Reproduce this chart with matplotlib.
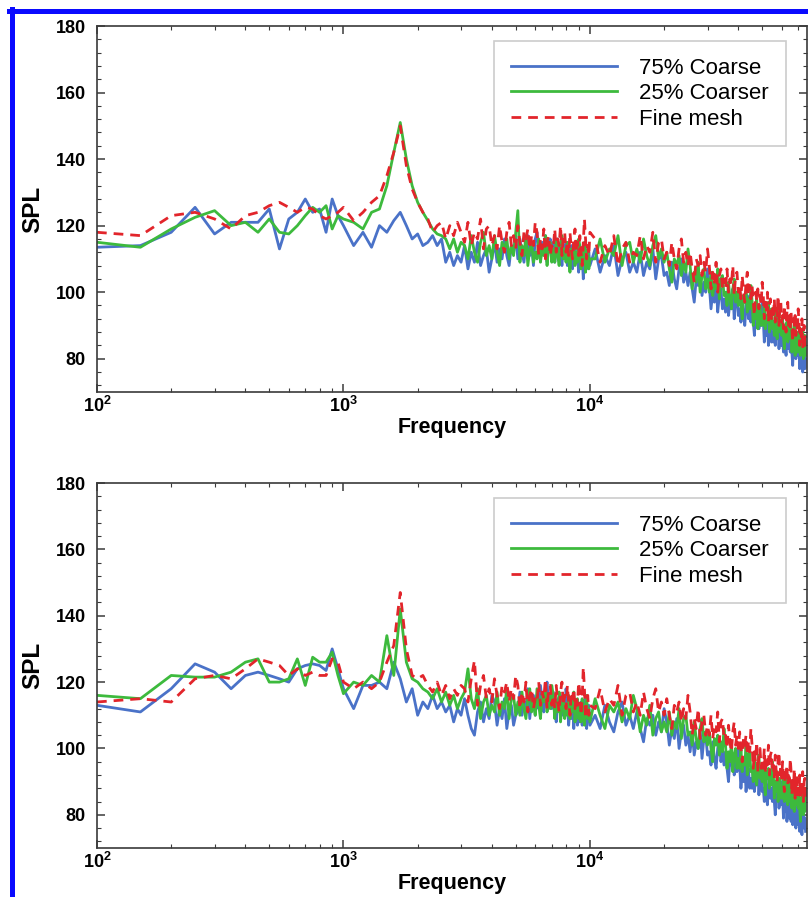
import numpy as np
import matplotlib

matplotlib.use("Agg")
import matplotlib.pyplot as plt
from matplotlib.lines import Line2D
from matplotlib.ticker import FixedLocator, LogLocator, MultipleLocator, NullFormatter

plt.rcParams["font.family"] = ["Liberation Sans", "DejaVu Sans"]
plt.rcParams["mathtext.fontset"] = "custom"
plt.rcParams["mathtext.rm"] = "Liberation Sans:bold"
plt.rcParams["mathtext.bf"] = "Liberation Sans:bold"

# FFT bins [Hz]: 50 Hz spacing up to 1 kHz, then thinned out for the broadband part
freq = np.concatenate(
    [
        np.arange(100, 1001, 50),
        np.arange(1100, 3001, 100),
        np.arange(3100, 10001, 100),
        np.arange(10500, 75001, 500),
    ]
)

labels = ["75% Coarse", "25% Coarser", "Fine mesh"]
colors = ["#4a72c8", "#3dba3d", "#e2252b"]

x_ticks = [1e2, 1e3, 1e4]
x_tick_labels = [r"$\mathbf{10^{2}}$", r"$\mathbf{10^{3}}$", r"$\mathbf{10^{4}}$"]
y_ticks = [80, 100, 120, 140, 160, 180]

# ---- top panel, SPL [dB] ----
top_coarse = [
    # 100 Hz - 3 kHz
    113.5, 114, 118, 125.5, 117.5, 121, 121, 121, 125, 113, 122, 124, 128, 124, 125, 118, 128, 123, 120,
    114, 118, 113.5, 120, 118, 121.5, 124, 120, 116, 117.5, 114, 115, 117, 114, 116, 109, 112, 108, 111, 109,
    # 3.1 - 10 kHz
    114, 107, 112, 109, 115, 108, 111, 113, 106, 110,
    115, 109, 113, 110, 116, 111, 108, 114, 112, 117,
    110, 116, 112, 109, 115, 117, 111, 114, 108, 116,
    118, 112, 110, 115, 113, 117, 109, 114, 116, 111,
    115, 109, 113, 116, 110, 112, 108, 114, 111, 115,
    108, 113, 110, 114, 107, 112, 115, 109, 111, 106,
    112, 108, 111, 104, 109, 113, 107, 110, 112, 108,
    # 10.5 - 75 kHz
    113, 106, 111, 108, 114, 105, 110, 112, 106, 109,
    106, 112, 105, 109, 107, 113, 104, 110, 111, 105,
    106, 102, 109, 104, 101, 107, 110, 103, 106, 102,
    106, 101, 97, 104, 102, 105, 99, 103, 100, 107,
    102, 95, 100, 97, 103, 94, 99, 101, 95, 98,
    94, 100, 93, 97, 95, 101, 92, 98, 99, 93,
    95, 91, 98, 93, 90, 96, 99, 92, 95, 91,
    96, 91, 87, 94, 92, 95, 89, 93, 90, 97,
    92, 85, 90, 87, 93, 84, 89, 91, 85, 88,
    85, 91, 84, 88, 86, 92, 83, 89, 90, 84,
    86, 82, 89, 84, 81, 87, 90, 83, 86, 82,
    87, 82, 78, 85, 83, 86, 80, 84, 81, 88,
    84, 77, 82, 79, 85, 76, 81, 83, 77, 80,
]
top_coarser = [
    115, 113.5, 119, 122.5, 124.5, 120, 121, 118, 122, 118, 117.5, 120, 123, 125.5, 124, 126, 119, 123, 122,
    121, 119, 124, 125, 132, 142, 151, 140, 132, 127, 124, 121.5, 119, 117.5, 117, 116, 113, 116, 112, 115,
    114, 110, 117, 112, 109, 115, 118, 111, 114, 110,
    117, 112, 108, 115, 113, 116, 110, 114, 111, 118,
    124.5, 109, 114, 111, 117, 108, 113, 115, 109, 112,
    110, 116, 109, 113, 111, 117, 108, 114, 115, 109,
    113, 109, 116, 111, 108, 114, 117, 110, 113, 109,
    115, 110, 106, 113, 111, 114, 108, 112, 109, 116,
    114, 107, 112, 109, 115, 106, 111, 113, 107, 110,
    110, 116, 109, 113, 111, 117, 108, 114, 115, 109,
    113, 109, 116, 111, 108, 114, 117, 110, 113, 109,
    112, 107, 103, 110, 108, 111, 105, 109, 106, 113,
    108, 101, 106, 103, 109, 100, 105, 107, 101, 104,
    100, 106, 99, 103, 101, 107, 98, 104, 105, 99,
    100, 96, 103, 98, 95, 101, 104, 97, 100, 96,
    101, 96, 92, 99, 97, 100, 94, 98, 95, 102,
    97, 90, 95, 92, 98, 89, 94, 96, 90, 93,
    90, 96, 89, 93, 91, 97, 88, 94, 95, 89,
    91, 87, 94, 89, 86, 92, 95, 88, 91, 87,
    92, 87, 83, 90, 88, 91, 85, 89, 86, 93,
    89, 82, 87, 84, 90, 81, 86, 88, 82, 85,
    82, 88, 81, 85, 83, 89, 80, 86, 87, 81,
]
top_fine = [
    118, 117, 123, 124, 122, 119, 123, 124, 126, 127, 125.5, 124, 125.5, 125, 123, 122, 123, 124, 125.5,
    121.5, 124, 127, 129, 135, 142, 150, 138, 131, 127, 124, 122, 118, 120, 121, 116, 120, 117, 121, 118,
    115, 121, 114, 118, 116, 122, 113, 119, 120, 114,
    117, 113, 120, 115, 112, 118, 121, 114, 117, 113,
    120, 115, 111, 118, 116, 119, 113, 117, 114, 121,
    118, 111, 116, 113, 119, 110, 115, 117, 111, 114,
    113, 119, 112, 116, 114, 120, 111, 117, 118, 112,
    115, 111, 118, 113, 110, 116, 119, 112, 115, 111,
    117, 112, 108, 115, 122, 116, 110, 114, 111, 118,
    116, 109, 114, 111, 117, 108, 113, 115, 109, 112,
    111, 117, 110, 114, 112, 118, 109, 115, 116, 110,
    112, 108, 115, 110, 107, 113, 116, 109, 112, 108,
    112, 107, 103, 110, 108, 111, 105, 109, 106, 113,
    108, 101, 106, 103, 109, 100, 105, 107, 101, 104,
    101, 107, 100, 104, 102, 108, 99, 105, 106, 100,
    102, 98, 105, 100, 97, 103, 106, 99, 102, 98,
    102, 97, 93, 100, 98, 101, 95, 99, 96, 103,
    99, 92, 97, 94, 100, 91, 96, 98, 92, 95,
    92, 98, 91, 95, 93, 99, 90, 96, 97, 91,
    93, 89, 96, 91, 88, 94, 97, 90, 93, 89,
    94, 89, 85, 92, 90, 93, 87, 91, 88, 95,
    91, 84, 89, 86, 92, 83, 88, 90, 84, 87,
]

# ---- bottom panel ----
bot_coarse = [
    113, 111, 118, 125.5, 123, 118, 122, 123, 122, 121, 120, 124, 125, 125.5, 125, 123.5, 130, 124, 118,
    112, 119, 119, 120, 118, 126, 121, 114, 118, 110, 114, 112, 116, 112, 114, 111, 113, 108, 112, 110,
    115, 110, 106, 104, 111, 114, 108, 112, 109, 116,
    114, 107, 112, 109, 115, 106, 111, 113, 107, 110,
    111, 117, 110, 114, 112, 118, 109, 115, 116, 110,
    116, 112, 119, 114, 111, 117, 120, 113, 116, 112,
    117, 112, 108, 115, 113, 116, 110, 114, 111, 118,
    114, 107, 112, 109, 115, 106, 111, 113, 107, 110,
    108, 114, 107, 111, 109, 115, 106, 112, 113, 107,
    110, 106, 113, 108, 105, 111, 114, 107, 110, 106,
    111, 106, 102, 109, 107, 110, 104, 108, 105, 112,
    108, 101, 106, 103, 109, 100, 105, 107, 101, 104,
    99, 105, 98, 102, 100, 106, 97, 103, 104, 98,
    99, 95, 102, 97, 94, 100, 103, 96, 99, 95,
    99, 94, 90, 97, 95, 98, 92, 96, 93, 100,
    95, 88, 93, 90, 96, 87, 92, 94, 88, 91,
    88, 94, 87, 91, 89, 95, 86, 92, 93, 87,
    88, 84, 91, 86, 83, 89, 92, 85, 88, 84,
    89, 84, 80, 87, 85, 88, 82, 86, 83, 90,
    86, 79, 84, 81, 87, 78, 83, 85, 79, 82,
    78, 84, 77, 81, 79, 85, 76, 82, 83, 77,
    79, 75, 82, 77, 74, 80, 83, 76, 79, 75,
]
bot_coarser = [
    116, 115, 122, 121.5, 121.5, 123, 126, 127, 120, 120, 121, 127, 119, 127.5, 126, 126, 129, 122, 116.5,
    120, 119, 122, 120, 134, 122, 142, 126, 121, 120, 118, 117, 115, 118, 114, 117, 113, 116, 112, 115,
    117, 124, 115, 112, 118, 109, 114, 116, 110, 113,
    111, 117, 110, 114, 112, 118, 109, 115, 116, 110,
    114, 110, 117, 112, 109, 115, 118, 111, 114, 110,
    118, 113, 109, 116, 114, 117, 111, 115, 112, 119,
    116, 109, 114, 111, 117, 108, 113, 115, 109, 112,
    110, 116, 109, 113, 111, 117, 108, 114, 115, 109,
    112, 108, 115, 110, 107, 113, 116, 109, 112, 108,
    115, 110, 106, 113, 111, 114, 108, 112, 109, 116,
    112, 105, 110, 107, 113, 104, 109, 111, 105, 108,
    105, 111, 104, 108, 106, 112, 103, 109, 110, 104,
    105, 101, 108, 103, 100, 106, 109, 102, 105, 101,
    105, 100, 96, 103, 101, 104, 98, 102, 99, 106,
    101, 94, 99, 96, 102, 93, 98, 100, 94, 97,
    94, 100, 93, 97, 95, 101, 92, 98, 99, 93,
    94, 90, 97, 92, 89, 95, 98, 91, 94, 90,
    95, 90, 86, 93, 91, 94, 88, 92, 89, 96,
    92, 85, 90, 87, 93, 84, 89, 91, 85, 88,
    85, 91, 84, 88, 86, 92, 83, 89, 90, 84,
    86, 82, 89, 84, 81, 87, 90, 83, 86, 82,
    87, 82, 78, 85, 83, 86, 80, 84, 81, 88,
]
bot_fine = [
    114, 115, 114, 121, 122, 121, 124, 127, 126, 125, 122, 124, 122, 123, 122, 122, 127, 126, 120,
    118, 120, 118, 120, 126, 131, 147, 130, 122, 121, 122, 119, 117, 120, 116, 119, 115, 118, 116, 119,
    118, 114, 121, 126.5, 113, 119, 122, 115, 118, 114,
    121, 116, 112, 119, 117, 120, 114, 118, 115, 122,
    119, 112, 117, 114, 120, 111, 116, 118, 112, 115,
    114, 120, 113, 117, 115, 121, 112, 118, 119, 113,
    116, 112, 119, 114, 111, 117, 120, 113, 116, 112,
    119, 114, 110, 117, 115, 118, 112, 116, 113, 120,
    117, 110, 115, 124.5, 118, 109, 114, 116, 110, 113,
    112, 118, 111, 115, 113, 119, 110, 116, 117, 111,
    114, 110, 117, 112, 109, 115, 118, 111, 114, 110,
    115, 110, 106, 113, 111, 114, 108, 112, 109, 116,
    111, 104, 109, 106, 112, 103, 108, 110, 104, 107,
    104, 110, 103, 107, 105, 111, 102, 108, 109, 103,
    104, 100, 107, 102, 99, 105, 108, 101, 104, 100,
    105, 100, 96, 103, 101, 104, 98, 102, 99, 106,
    101, 94, 99, 96, 102, 93, 98, 100, 94, 97,
    94, 100, 93, 97, 95, 101, 92, 98, 99, 93,
    95, 91, 98, 93, 90, 96, 99, 92, 95, 91,
    96, 91, 87, 94, 92, 95, 89, 93, 90, 97,
    93, 86, 91, 88, 94, 85, 90, 92, 86, 89,
    86, 92, 85, 89, 87, 93, 84, 90, 91, 85,
]


def draw_panel(ax, series):
    for spl, label, color in zip(series, labels, colors):
        ls = (0, (3.5, 2.5)) if label == "Fine mesh" else "-"
        ax.plot(freq, spl, color=color, lw=2.0, ls=ls, label=label)

    ax.set_xscale("log")
    ax.set_xlim(100, 7.6e4)
    ax.set_ylim(70, 180)

    ax.xaxis.set_major_locator(FixedLocator(x_ticks))
    ax.set_xticklabels(x_tick_labels)
    ax.xaxis.set_minor_locator(LogLocator(base=10, subs=range(2, 10)))
    ax.xaxis.set_minor_formatter(NullFormatter())
    ax.set_yticks(y_ticks)
    ax.set_yticklabels([str(v) for v in y_ticks], fontweight="bold")
    ax.yaxis.set_minor_locator(MultipleLocator(4))

    ax.tick_params(which="both", direction="in", top=True, right=True, color="#3a3a3a", labelsize=13)
    ax.tick_params(which="major", length=6, width=1.1)
    ax.tick_params(which="minor", length=3, width=0.8)
    ax.tick_params(axis="y", pad=8)
    ax.tick_params(axis="x", pad=3)
    for sp in ax.spines.values():
        sp.set_color("#3a3a3a")
        sp.set_linewidth(1.2)

    ax.set_xlabel("Frequency", fontsize=15.5, fontweight="bold")
    ax.xaxis.set_label_coords(0.5, -0.068)
    ax.set_ylabel("SPL", fontsize=17.5, fontweight="bold", va="center")
    ax.yaxis.set_label_coords(-0.09, 0.5)

    leg = ax.legend(
        loc="upper right",
        bbox_to_anchor=(0.970, 0.959),
        borderaxespad=0,
        fontsize=16,
        handlelength=4.8,
        handletextpad=1.0,
        labelspacing=0.2,
        borderpad=0.75,
        fancybox=False,
        framealpha=1,
        edgecolor="#cccccc",
    )
    leg.get_frame().set_linewidth(1.2)


W, H = 808, 897
fig = plt.figure(figsize=(W / 100, H / 100), dpi=100)
ax_top = fig.add_axes([97 / W, 1 - 392 / H, 710 / W, 366 / H])
ax_bot = fig.add_axes([97 / W, 1 - 848 / H, 710 / W, 365 / H])
draw_panel(ax_top, [top_coarse, top_coarser, top_fine])
draw_panel(ax_bot, [bot_coarse, bot_coarser, bot_fine])

# blue frame along top and left edge of the page
edge = 11.5
fig.add_artist(Line2D([9 / W, 1], [1 - edge / H] * 2, transform=fig.transFigure, color="#0a0aff", lw=3.6))
fig.add_artist(Line2D([edge / W] * 2, [0, 1 - 9 / H], transform=fig.transFigure, color="#0a0aff", lw=3.6))

fig.savefig("out.png", dpi=100)
